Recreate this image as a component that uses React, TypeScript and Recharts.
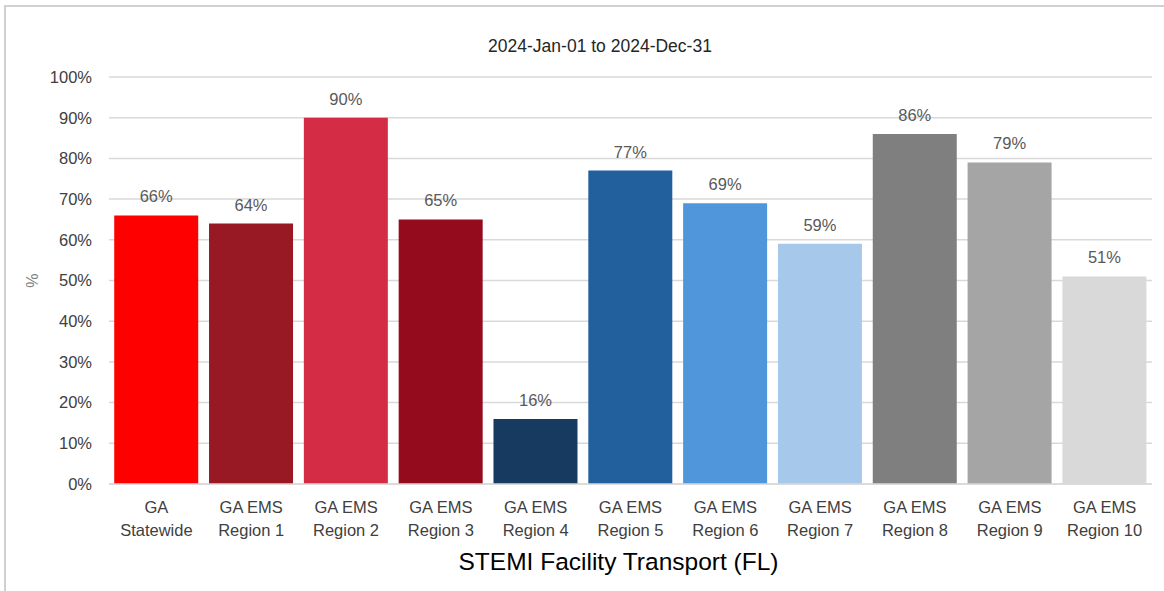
import { Bar, BarChart, CartesianGrid, Cell, LabelList, XAxis, YAxis } from "recharts";

const REGIONS = [
  "GA|Statewide",
  "GA EMS|Region 1",
  "GA EMS|Region 2",
  "GA EMS|Region 3",
  "GA EMS|Region 4",
  "GA EMS|Region 5",
  "GA EMS|Region 6",
  "GA EMS|Region 7",
  "GA EMS|Region 8",
  "GA EMS|Region 9",
  "GA EMS|Region 10",
];
const PERCENTS = [66, 64, 90, 65, 16, 77, 69, 59, 86, 79, 51];
const COLORS = [
  "#ff0000",
  "#981824",
  "#d42c44",
  "#930b1c",
  "#173b60",
  "#22609d",
  "#4f96da",
  "#a6c9eb",
  "#7f7f7f",
  "#a5a5a5",
  "#d9d9d9",
];
const Y_TICKS = [0, 10, 20, 30, 40, 50, 60, 70, 80, 90, 100];

const data = REGIONS.map((name, i) => ({ name, value: PERCENTS[i] }));

const FONT = "'Liberation Sans', Arial, sans-serif";

function RegionTick({ x, y, payload }: any) {
  const [a, b] = String(payload.value).split("|");
  return (
    <text x={x} y={y} textAnchor="middle" fill="#404040" fontSize={16.5} fontFamily={FONT}>
      <tspan x={x} dy={21}>{a}</tspan>
      <tspan x={x} dy={23}>{b}</tspan>
    </text>
  );
}

export default function App() {
  return (
    <div style={{ position: "fixed", left: 0, top: 0, width: 1164, height: 591, background: "#fff", fontFamily: FONT }}>
      <div
        style={{
          position: "absolute",
          left: 4,
          top: 5,
          width: 1160,
          height: 586,
          boxSizing: "border-box",
          borderTop: "2px solid #d0d0d0",
          borderLeft: "2px solid #d0d0d0",
        }}
      />
      <div
        style={{
          position: "absolute",
          top: 36,
          left: 0,
          width: 1200,
          textAlign: "center",
          fontSize: 17.5,
          color: "#262626",
        }}
      >
        2024-Jan-01 to 2024-Dec-31
      </div>
      <div style={{ position: "absolute", left: 0, top: 0 }}>
        <BarChart
          width={1164}
          height={591}
          data={data}
          margin={{ top: 77, right: 12, bottom: 17, left: 0 }}
          barCategoryGap="5.5%"
        >
          <CartesianGrid vertical={false} stroke="#d9d9d9" strokeWidth={1.5} />
          <XAxis
            dataKey="name"
            height={90}
            interval={0}
            tickLine={false}
            axisLine={{ stroke: "#d9d9d9", strokeWidth: 1.5 }}
            tick={<RegionTick />}
            label={{
              value: "STEMI Facility Transport (FL)",
              position: "insideBottom",
              offset: 4,
              dx: -12,
              fontSize: 24.5,
              fill: "#000",
              fontFamily: FONT,
            }}
          />
          <YAxis
            width={109}
            domain={[0, 100]}
            ticks={Y_TICKS}
            interval={0}
            tickLine={false}
            axisLine={false}
            tickMargin={11}
            tickFormatter={(v) => `${v}%`}
            tick={{ fontSize: 16.5, fill: "#404040", fontFamily: FONT }}
            label={{
              content: ({ viewBox }: any) => {
                const cy = viewBox.y + viewBox.height / 2;
                return (
                  <text
                    x={32}
                    y={cy}
                    transform={`rotate(-90 32 ${cy})`}
                    textAnchor="middle"
                    dominantBaseline="central"
                    fontSize={16}
                    fill="#7f7f7f"
                    fontFamily={FONT}
                  >
                    %
                  </text>
                );
              },
            }}
          />
          <Bar dataKey="value" isAnimationActive={false}>
            {data.map((_, i) => (
              <Cell key={i} fill={COLORS[i]} />
            ))}
            <LabelList
              dataKey="value"
              position="top"
              offset={13}
              formatter={(v: any) => `${v}%`}
              fill="#595959"
              fontSize={16.5}
              fontFamily={FONT}
            />
          </Bar>
        </BarChart>
      </div>
    </div>
  );
}
